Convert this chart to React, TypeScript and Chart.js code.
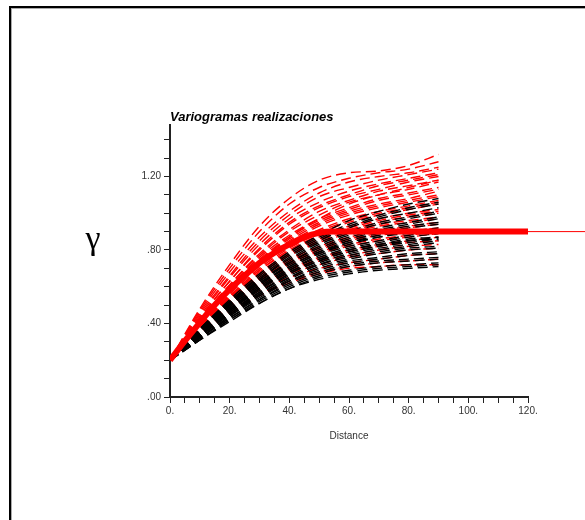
import React, { useEffect, useRef } from "react";
import { Chart, registerables } from "chart.js";

Chart.register(...registerables);

// ---- data ----
const lags = [0, 10, 20, 30, 40, 50, 60, 70, 80, 90];

const red01 = [0.2, 0.48, 0.72, 0.93, 1.08, 1.18, 1.22, 1.23, 1.26, 1.32];
const red02 = [0.2, 0.46, 0.68, 0.87, 1.01, 1.11, 1.17, 1.2, 1.22, 1.25];
const red03 = [0.2, 0.44, 0.65, 0.83, 0.97, 1.06, 1.12, 1.16, 1.19, 1.22];
const red04 = [0.2, 0.43, 0.63, 0.8, 0.94, 1.03, 1.09, 1.13, 1.17, 1.2];
const red05 = [0.2, 0.42, 0.61, 0.77, 0.9, 0.99, 1.06, 1.1, 1.13, 1.17];
const red06 = [0.2, 0.41, 0.6, 0.76, 0.88, 0.97, 1.03, 1.08, 1.11, 1.14];
const red07 = [0.2, 0.41, 0.59, 0.74, 0.86, 0.95, 1.01, 1.05, 1.08, 1.12];
const red08 = [0.2, 0.4, 0.58, 0.73, 0.84, 0.93, 0.99, 1.03, 1.06, 1.09];
const red09 = [0.2, 0.4, 0.57, 0.72, 0.83, 0.91, 0.97, 1.01, 1.04, 1.07];
const red10 = [0.2, 0.39, 0.56, 0.7, 0.81, 0.89, 0.95, 0.99, 1.02, 1.05];
const red11 = [0.2, 0.39, 0.55, 0.69, 0.8, 0.88, 0.93, 0.97, 1.0, 1.02];
const red12 = [0.2, 0.38, 0.54, 0.68, 0.78, 0.86, 0.91, 0.95, 0.98, 1.0];
const red13 = [0.2, 0.38, 0.54, 0.67, 0.77, 0.84, 0.89, 0.93, 0.95, 0.97];
const red14 = [0.2, 0.37, 0.53, 0.66, 0.75, 0.82, 0.87, 0.9, 0.93, 0.95];
const red15 = [0.2, 0.37, 0.52, 0.64, 0.73, 0.8, 0.85, 0.88, 0.9, 0.92];
const red16 = [0.2, 0.36, 0.51, 0.63, 0.72, 0.78, 0.82, 0.85, 0.87, 0.89];
const red17 = [0.2, 0.36, 0.5, 0.61, 0.69, 0.75, 0.79, 0.82, 0.84, 0.85];
const red18 = [0.2, 0.35, 0.48, 0.59, 0.67, 0.72, 0.76, 0.78, 0.8, 0.81];
const red19 = [0.2, 0.34, 0.46, 0.56, 0.63, 0.68, 0.71, 0.73, 0.74, 0.75];
const red20 = [0.2, 0.33, 0.45, 0.55, 0.62, 0.67, 0.7, 0.71, 0.72, 0.72];
const red21 = [0.2, 0.47, 0.7, 0.9, 1.05, 1.14, 1.19, 1.22, 1.24, 1.28];
const red22 = [0.2, 0.45, 0.66, 0.85, 0.99, 1.09, 1.14, 1.18, 1.21, 1.24];
const red23 = [0.2, 0.43, 0.63, 0.81, 0.95, 1.04, 1.1, 1.15, 1.18, 1.21];
const red24 = [0.2, 0.42, 0.61, 0.78, 0.91, 1.01, 1.07, 1.12, 1.15, 1.18];
const red25 = [0.2, 0.41, 0.6, 0.75, 0.87, 0.96, 1.02, 1.07, 1.1, 1.13];
const red26 = [0.2, 0.4, 0.58, 0.73, 0.85, 0.94, 1.0, 1.04, 1.07, 1.1];
const red27 = [0.2, 0.4, 0.57, 0.71, 0.82, 0.9, 0.96, 1.0, 1.03, 1.06];
const red28 = [0.2, 0.39, 0.55, 0.69, 0.79, 0.87, 0.92, 0.96, 0.99, 1.01];
const red29 = [0.2, 0.38, 0.54, 0.67, 0.77, 0.85, 0.9, 0.94, 0.96, 0.98];
const red30 = [0.2, 0.37, 0.53, 0.65, 0.74, 0.81, 0.86, 0.89, 0.92, 0.94];
const red31 = [0.2, 0.37, 0.52, 0.64, 0.73, 0.79, 0.83, 0.86, 0.88, 0.9];
const red32 = [0.2, 0.36, 0.5, 0.62, 0.7, 0.76, 0.8, 0.83, 0.85, 0.87];
const red33 = [0.2, 0.35, 0.49, 0.6, 0.68, 0.74, 0.77, 0.8, 0.82, 0.83];
const red34 = [0.2, 0.35, 0.47, 0.58, 0.65, 0.7, 0.73, 0.75, 0.77, 0.78];
const red35 = [0.2, 0.4, 0.58, 0.74, 0.87, 0.97, 1.05, 1.1, 1.14, 1.18];

const black01 = [0.2, 0.31, 0.41, 0.51, 0.59, 0.64, 0.67, 0.69, 0.7, 0.71];
const black02 = [0.2, 0.31, 0.42, 0.52, 0.6, 0.66, 0.69, 0.71, 0.72, 0.73];
const black03 = [0.2, 0.32, 0.43, 0.53, 0.62, 0.68, 0.72, 0.74, 0.75, 0.76];
const black04 = [0.2, 0.32, 0.44, 0.54, 0.63, 0.7, 0.74, 0.76, 0.78, 0.79];
const black05 = [0.2, 0.33, 0.45, 0.56, 0.65, 0.72, 0.76, 0.79, 0.81, 0.82];
const black06 = [0.2, 0.33, 0.46, 0.57, 0.66, 0.73, 0.78, 0.81, 0.83, 0.85];
const black07 = [0.2, 0.34, 0.47, 0.58, 0.68, 0.75, 0.8, 0.83, 0.86, 0.87];
const black08 = [0.2, 0.34, 0.47, 0.59, 0.69, 0.77, 0.82, 0.85, 0.88, 0.9];
const black09 = [0.2, 0.35, 0.48, 0.6, 0.7, 0.78, 0.84, 0.87, 0.9, 0.92];
const black10 = [0.2, 0.35, 0.49, 0.61, 0.72, 0.8, 0.86, 0.9, 0.93, 0.95];
const black11 = [0.2, 0.36, 0.5, 0.63, 0.73, 0.82, 0.88, 0.92, 0.95, 0.98];
const black12 = [0.2, 0.36, 0.51, 0.64, 0.75, 0.84, 0.9, 0.95, 0.98, 1.01];
const black13 = [0.2, 0.37, 0.52, 0.65, 0.77, 0.86, 0.93, 0.98, 1.02, 1.05];
const black14 = [0.2, 0.37, 0.53, 0.67, 0.79, 0.88, 0.96, 1.01, 1.05, 1.08];
const black15 = [0.2, 0.36, 0.5, 0.62, 0.71, 0.79, 0.84, 0.88, 0.9, 0.91];
const black16 = [0.2, 0.34, 0.46, 0.57, 0.67, 0.74, 0.79, 0.82, 0.84, 0.86];
const black17 = [0.2, 0.31, 0.42, 0.51, 0.59, 0.65, 0.68, 0.7, 0.71, 0.72];
const black18 = [0.2, 0.32, 0.43, 0.53, 0.61, 0.67, 0.71, 0.73, 0.74, 0.75];
const black19 = [0.2, 0.32, 0.44, 0.55, 0.64, 0.71, 0.75, 0.78, 0.8, 0.81];
const black20 = [0.2, 0.33, 0.45, 0.56, 0.65, 0.72, 0.77, 0.8, 0.82, 0.84];
const black21 = [0.2, 0.33, 0.46, 0.57, 0.67, 0.74, 0.79, 0.82, 0.85, 0.86];
const black22 = [0.2, 0.34, 0.47, 0.59, 0.69, 0.76, 0.81, 0.84, 0.87, 0.89];
const black23 = [0.2, 0.34, 0.48, 0.6, 0.7, 0.78, 0.83, 0.87, 0.89, 0.91];
const black24 = [0.2, 0.35, 0.49, 0.61, 0.71, 0.79, 0.85, 0.89, 0.92, 0.94];
const black25 = [0.2, 0.35, 0.5, 0.62, 0.73, 0.81, 0.87, 0.91, 0.94, 0.97];
const black26 = [0.2, 0.36, 0.51, 0.63, 0.74, 0.83, 0.89, 0.94, 0.97, 1.0];
const black27 = [0.2, 0.36, 0.51, 0.64, 0.76, 0.85, 0.92, 0.97, 1.0, 1.03];
const black28 = [0.2, 0.37, 0.52, 0.66, 0.78, 0.87, 0.94, 0.99, 1.03, 1.06];
const black29 = [0.2, 0.33, 0.45, 0.55, 0.63, 0.69, 0.73, 0.75, 0.77, 0.78];
const black30 = [0.2, 0.35, 0.48, 0.59, 0.68, 0.75, 0.8, 0.83, 0.85, 0.87];

const modelLags = [0, 5, 10, 15, 20, 25, 30, 35, 40, 45, 50, 55, 120];
const modelValues = [0.2, 0.305, 0.405, 0.5, 0.585, 0.66, 0.73, 0.785, 0.83, 0.87, 0.893, 0.9, 0.9];
const modelTailLags = [120, 140];
const modelTailValues = [0.9, 0.9];

const xTickLabels = ["0.", "20.", "40.", "60.", "80.", "100.", "120."];
const xLabelValues = [0, 20, 40, 60, 80, 100, 120];
const yTickValues = [0, 0.1, 0.2, 0.3, 0.4, 0.5, 0.6, 0.7, 0.8, 0.9, 1.0, 1.1, 1.2, 1.3, 1.4];
const yLabelValues = [0, 0.4, 0.8, 1.2];
const yTickLabels = [".00", ".40", ".80", "1.20"];

const chartTitle = "Variogramas realizaciones";
const xAxisTitle = "Distance";
const yAxisTitle = "\u03b3";

const redSeries = [red01, red02, red03, red04, red05, red06, red07, red08, red09, red10,
  red11, red12, red13, red14, red15, red16, red17, red18, red19, red20,
  red21, red22, red23, red24, red25, red26, red27, red28, red29, red30,
  red31, red32, red33, red34, red35];
const blackSeries = [black01, black02, black03, black04, black05, black06, black07, black08,
  black09, black10, black11, black12, black13, black14, black15, black16, black17, black18,
  black19, black20, black21, black22, black23, black24, black25, black26, black27, black28,
  black29, black30];

const toPoints = (xs: number[], ys: number[]) => xs.map((x, i) => ({ x, y: ys[i] }));

const textPlugin = {
  id: "texts",
  afterDraw(chart: any) {
    const ctx = chart.ctx;
    const area = chart.chartArea;
    ctx.save();
    ctx.fillStyle = "#000";
    ctx.font = 'italic bold 13px "Liberation Sans", Arial, sans-serif';
    ctx.textAlign = "left";
    ctx.textBaseline = "middle";
    ctx.fillText(chartTitle, area.left, 117);
    ctx.fillStyle = "#333";
    ctx.font = '10px "Liberation Sans", Arial, sans-serif';
    ctx.textAlign = "center";
    ctx.fillText(xAxisTitle, (area.left + area.right) / 2, 436);
    ctx.fillStyle = "#000";
    ctx.font = '34px "Liberation Serif", "DejaVu Serif", serif';
    ctx.fillText(yAxisTitle, 93, 240);
    ctx.restore();
  },
};

export default function App() {
  const ref = useRef<HTMLCanvasElement | null>(null);
  useEffect(() => {
    if (!ref.current) return;
    const datasets: any[] = [];
    datasets.push({
      data: toPoints(modelLags, modelValues),
      borderColor: "#ff0000",
      borderWidth: 6,
      pointRadius: 0,
      showLine: true,
      cubicInterpolationMode: "monotone",
      order: 0,
    });
    datasets.push({
      data: toPoints(modelTailLags, modelTailValues),
      borderColor: "#ff0000",
      borderWidth: 1,
      pointRadius: 0,
      showLine: true,
      clip: false,
      order: 0,
    });
    blackSeries.forEach((s) =>
      datasets.push({
        data: toPoints(lags, s),
        borderColor: "#000000",
        borderWidth: 1.4,
        borderDash: [10, 5],
        pointRadius: 0,
        showLine: true,
        cubicInterpolationMode: "monotone",
        order: 1,
      })
    );
    redSeries.forEach((s) =>
      datasets.push({
        data: toPoints(lags, s),
        borderColor: "#ff0000",
        borderWidth: 1.4,
        borderDash: [10, 5],
        pointRadius: 0,
        showLine: true,
        cubicInterpolationMode: "monotone",
        order: 2,
      })
    );

    const chart = new Chart(ref.current, {
      type: "scatter",
      data: { datasets },
      plugins: [textPlugin],
      options: {
        animation: false,
        responsive: false,
        maintainAspectRatio: false,
        layout: { padding: { left: 120, right: 57, top: 125, bottom: 93 } },
        plugins: { legend: { display: false }, tooltip: { enabled: false }, title: { display: false } },
        scales: {
          x: {
            type: "linear",
            min: 0,
            max: 120,
            afterFit: (s: any) => { s.height = 30; },
            border: { display: true, color: "#222", width: 2 },
            grid: { display: true, drawOnChartArea: false, drawTicks: true, tickLength: 6, color: "#222", tickWidth: 1 },
            ticks: {
              stepSize: 5,
              autoSkip: false,
              maxRotation: 0,
              padding: 2,
              color: "#333",
              font: { family: '"Liberation Sans", Arial, sans-serif', size: 10 },
              callback: (v: any) => {
                const i = xLabelValues.indexOf(Number(v));
                return i >= 0 ? xTickLabels[i] : "";
              },
            },
          },
          y: {
            type: "linear",
            min: 0,
            max: 1.48,
            afterFit: (s: any) => { s.width = 50; },
            afterBuildTicks: (s: any) => { s.ticks = yTickValues.map((v) => ({ value: v })); },
            border: { display: true, color: "#222", width: 2 },
            grid: { display: true, drawOnChartArea: false, drawTicks: true, tickLength: 6, color: "#222", tickWidth: 1 },
            ticks: {
              autoSkip: false,
              padding: 3,
              color: "#333",
              font: { family: '"Liberation Sans", Arial, sans-serif', size: 10 },
              callback: (v: any) => {
                const i = yLabelValues.findIndex((t) => Math.abs(t - Number(v)) < 1e-6);
                return i >= 0 ? yTickLabels[i] : "";
              },
            },
          },
        },
      } as any,
    });
    return () => chart.destroy();
  }, []);

  return (
    <div style={{ position: "absolute", left: 0, top: 0, width: 585, height: 520, overflow: "hidden", background: "#fff" }}>
      <canvas ref={ref} width={585} height={520} style={{ width: 585, height: 520, display: "block" }} />
      <div
        style={{
          position: "absolute",
          left: 9,
          top: 6,
          width: 620,
          height: 620,
          borderTop: "2px solid #000",
          borderLeft: "2px solid #000",
          boxShadow: "inset 1px 1px 0 #aaa",
          pointerEvents: "none",
        }}
      />
    </div>
  );
}
